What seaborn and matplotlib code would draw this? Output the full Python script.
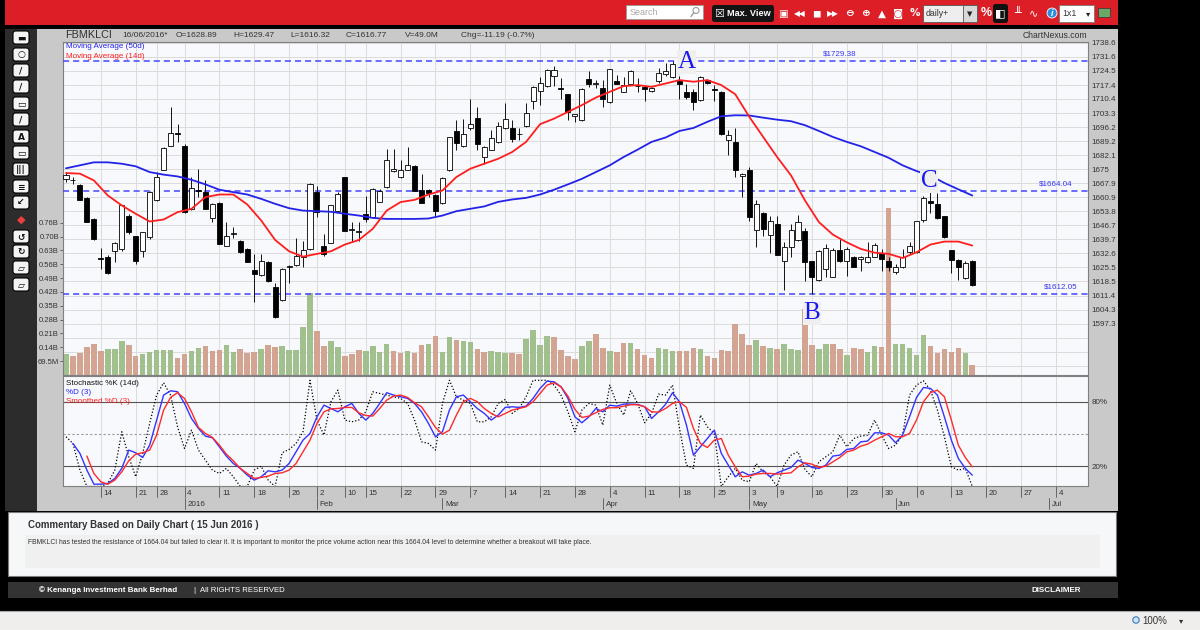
import numpy as np
import pandas as pd
import matplotlib
matplotlib.use("Agg")
import matplotlib.pyplot as plt
import matplotlib.patches as mpatches
import matplotlib.transforms as mtransforms
import seaborn as sns

sns.set_style("white")
plt.rcParams["font.family"] = ["Liberation Sans", "DejaVu Sans"]

# ---------------- data ----------------
# Bursa trading calendar, first bar 7 Dec 2015, last bar 16 Jun 2016
FIRST_DAY = "2015-12-07"
LAST_DAY = "2016-07-08"
HOLIDAYS = ["2015-12-24", "2015-12-25", "2016-01-01", "2016-01-25", "2016-02-01",
            "2016-02-08", "2016-02-09", "2016-05-02", "2016-07-06", "2016-07-07"]

opens = [
    1670.2, 1669.8, 1666.9, 1660.6, 1650.0, 1630.3, 1631.0, 1634.0, 1634.9, 1651.7,
    1641.6, 1633.7, 1640.8, 1659.3, 1674.8, 1686.9, 1693.2, 1686.7, 1655.1, 1664.6,
    1663.5, 1650.5, 1658.0, 1636.6, 1642.6, 1639.1, 1634.9, 1624.3, 1621.9, 1628.1,
    1615.9, 1609.1, 1626.0, 1626.8, 1630.7, 1634.9, 1663.8, 1636.2, 1637.9, 1654.2,
    1670.9, 1644.2, 1643.4, 1652.6, 1651.2, 1658.6, 1666.0, 1673.9, 1671.1, 1674.8,
    1676.5, 1664.7, 1664.7, 1662.3, 1658.0, 1674.4, 1694.3, 1686.6, 1696.0, 1701.0,
    1681.2, 1684.9, 1688.8, 1696.0, 1695.8, 1693.0, 1696.7, 1709.5, 1714.5, 1716.9,
    1721.9, 1716.0, 1712.8, 1701.7, 1700.0, 1720.7, 1718.2, 1715.7, 1709.0, 1719.6,
    1714.0, 1718.2, 1717.0, 1716.5, 1714.5, 1719.6, 1722.9, 1721.6, 1719.6, 1714.0,
    1713.7, 1709.8, 1720.0, 1715.5, 1714.0, 1689.9, 1688.8, 1671.8, 1674.8, 1644.5,
    1653.1, 1642.0, 1647.5, 1628.6, 1636.1, 1639.4, 1643.8, 1628.6, 1619.2, 1624.8,
    1620.9, 1634.4, 1628.6, 1631.0, 1629.8, 1628.1, 1631.0, 1632.7, 1628.6, 1623.5,
    1625.6, 1633.2, 1633.2, 1649.5, 1658.8, 1657.6, 1651.4, 1634.4, 1629.3, 1620.2,
    1628.89]
highs = [
    1673.6, 1671.1, 1667.7, 1661.0, 1650.5, 1635.4, 1632.0, 1638.2, 1657.0, 1652.6,
    1641.6, 1643.5, 1664.0, 1673.6, 1686.2, 1706.4, 1697.7, 1687.5, 1671.1, 1675.3,
    1669.4, 1658.0, 1658.4, 1648.4, 1645.8, 1639.5, 1635.2, 1632.4, 1632.4, 1628.6,
    1617.5, 1625.3, 1627.0, 1640.4, 1639.1, 1667.9, 1666.7, 1642.5, 1657.0, 1663.5,
    1671.1, 1648.4, 1648.4, 1661.3, 1665.5, 1665.2, 1685.4, 1685.4, 1679.5, 1686.2,
    1677.0, 1672.8, 1665.2, 1662.6, 1671.0, 1691.5, 1700.0, 1700.5, 1710.6, 1706.4,
    1686.5, 1694.6, 1698.9, 1708.4, 1699.7, 1696.0, 1708.4, 1716.8, 1721.6, 1725.3,
    1727.0, 1721.2, 1713.0, 1703.0, 1715.7, 1724.6, 1720.2, 1720.2, 1725.5, 1722.4,
    1721.6, 1724.9, 1721.2, 1717.0, 1716.5, 1725.8, 1728.3, 1729.38, 1721.9, 1718.2,
    1715.2, 1722.0, 1720.7, 1717.4, 1714.3, 1694.6, 1696.0, 1673.1, 1676.1, 1659.3,
    1653.3, 1651.7, 1651.7, 1638.2, 1647.5, 1652.2, 1645.5, 1629.0, 1634.4, 1637.4,
    1635.4, 1639.9, 1635.7, 1631.5, 1631.5, 1638.2, 1637.7, 1634.9, 1630.7, 1627.3,
    1634.9, 1638.2, 1649.2, 1661.3, 1663.5, 1663.0, 1651.7, 1634.6, 1629.8, 1629.0,
    1629.47]
lows = [
    1668.5, 1667.7, 1659.3, 1648.2, 1639.5, 1624.8, 1622.3, 1628.1, 1634.0, 1642.5,
    1627.3, 1630.7, 1640.0, 1659.0, 1674.6, 1686.9, 1688.8, 1653.0, 1654.6, 1661.0,
    1655.1, 1648.4, 1637.2, 1636.4, 1640.4, 1632.9, 1628.2, 1608.3, 1621.4, 1618.3,
    1600.0, 1608.8, 1617.5, 1626.1, 1626.0, 1634.4, 1651.2, 1631.5, 1637.9, 1654.2,
    1643.8, 1638.2, 1639.1, 1648.4, 1651.0, 1658.3, 1665.7, 1673.6, 1670.6, 1674.4,
    1664.0, 1657.8, 1661.0, 1651.7, 1657.5, 1674.0, 1684.5, 1686.2, 1694.6, 1684.5,
    1677.8, 1684.5, 1688.3, 1695.5, 1688.8, 1689.6, 1696.3, 1705.6, 1707.3, 1716.5,
    1716.9, 1710.6, 1699.7, 1698.9, 1699.4, 1716.5, 1715.7, 1706.4, 1708.5, 1717.9,
    1713.7, 1718.0, 1714.0, 1709.5, 1714.0, 1718.6, 1721.9, 1721.2, 1710.6, 1710.6,
    1704.8, 1709.5, 1718.2, 1709.5, 1692.3, 1682.0, 1671.1, 1661.0, 1649.2, 1635.7,
    1641.6, 1632.7, 1631.8, 1614.2, 1630.7, 1639.0, 1618.9, 1612.05, 1618.9, 1620.6,
    1620.6, 1628.1, 1621.4, 1625.6, 1623.6, 1628.0, 1630.7, 1623.9, 1623.9, 1622.3,
    1625.3, 1632.4, 1633.0, 1648.4, 1652.9, 1650.0, 1640.5, 1622.6, 1619.2, 1619.7,
    1616.32]
closes = [
    1671.9, 1669.6, 1659.3, 1648.4, 1639.9, 1629.8, 1622.6, 1637.7, 1656.8, 1643.3,
    1628.6, 1643.3, 1663.5, 1671.1, 1685.9, 1693.3, 1692.8, 1653.4, 1665.7, 1664.0,
    1655.1, 1657.6, 1637.4, 1641.3, 1643.0, 1633.2, 1628.5, 1622.3, 1629.0, 1618.6,
    1600.4, 1624.8, 1626.5, 1631.3, 1634.4, 1667.7, 1653.4, 1632.4, 1656.8, 1662.7,
    1644.1, 1644.7, 1643.8, 1650.0, 1665.2, 1664.0, 1679.8, 1675.3, 1674.4, 1677.3,
    1664.3, 1658.0, 1663.3, 1654.2, 1670.7, 1691.3, 1688.2, 1692.6, 1698.0, 1687.9,
    1686.2, 1691.0, 1696.7, 1700.5, 1690.4, 1692.6, 1703.4, 1716.5, 1718.7, 1725.0,
    1725.0, 1715.5, 1703.9, 1702.7, 1715.2, 1717.9, 1718.4, 1710.6, 1725.3, 1718.2,
    1717.4, 1724.6, 1716.8, 1715.5, 1715.7, 1723.3, 1724.6, 1728.0, 1717.9, 1711.5,
    1709.0, 1721.6, 1718.6, 1715.0, 1692.6, 1692.1, 1674.4, 1672.8, 1651.2, 1657.6,
    1645.0, 1649.2, 1632.0, 1635.7, 1644.5, 1648.7, 1628.1, 1620.6, 1633.7, 1635.4,
    1634.4, 1628.6, 1634.9, 1626.0, 1630.7, 1631.0, 1637.1, 1629.8, 1625.6, 1626.0,
    1630.7, 1636.6, 1648.9, 1660.6, 1658.2, 1650.5, 1640.8, 1629.3, 1625.6, 1627.6,
    1616.77]
# volume in billions of shares, bar colour g = green, p = brown
volumes = [
    0.105, 0.095, 0.112, 0.142, 0.156, 0.121, 0.129, 0.129, 0.172, 0.151,
    0.095, 0.105, 0.114, 0.126, 0.126, 0.126, 0.084, 0.105, 0.121, 0.134,
    0.146, 0.123, 0.126, 0.151, 0.118, 0.129, 0.112, 0.118, 0.129, 0.152,
    0.142, 0.146, 0.126, 0.126, 0.240, 0.414, 0.223, 0.146, 0.172, 0.142,
    0.095, 0.105, 0.126, 0.123, 0.146, 0.118, 0.156, 0.123, 0.112, 0.123,
    0.112, 0.151, 0.156, 0.196, 0.118, 0.193, 0.176, 0.171, 0.168, 0.131,
    0.114, 0.121, 0.114, 0.109, 0.109, 0.105, 0.179, 0.226, 0.151, 0.196,
    0.193, 0.126, 0.095, 0.079, 0.146, 0.171, 0.204, 0.137, 0.121, 0.118,
    0.162, 0.162, 0.131, 0.100, 0.087, 0.137, 0.131, 0.121, 0.121, 0.121,
    0.134, 0.129, 0.095, 0.084, 0.126, 0.123, 0.256, 0.206, 0.151, 0.174,
    0.146, 0.137, 0.129, 0.158, 0.131, 0.126, 0.330, 0.151, 0.129, 0.158,
    0.158, 0.129, 0.100, 0.137, 0.129, 0.114, 0.146, 0.142, 0.838, 0.158,
    0.156, 0.134, 0.100, 0.201, 0.146, 0.109, 0.129, 0.114, 0.137, 0.112,
    0.049]
vol_colour = ("gpppppgggp" "pgggggppgg" "pppggpppgp" "pgggggppgg" "pppggggppg"
              "ppgpggpggp" "pgggppgggg" "ppppggppgp" "pgpppgggpp" "pgpppppppg"
              "pgpgggppgg" "ppgppggppg" "ggggpppppg" "p")

# moving averages, read every second bar
ma_days = list(range(0, 131, 2))
ma50 = [1675.5, 1677.0, 1678.5, 1678.5, 1677.8, 1676.5, 1673.6, 1672.3, 1671.4, 1669.7,
        1667.4, 1664.7, 1663.5, 1662.3, 1660.1, 1657.6, 1655.4, 1654.2, 1653.9, 1653.6,
        1652.6, 1651.7, 1650.5, 1650.0, 1650.0, 1650.0, 1650.2, 1651.7, 1653.9, 1655.1,
        1656.3, 1658.6, 1659.8, 1660.6, 1662.3, 1664.7, 1667.4, 1670.2, 1673.6, 1677.0,
        1681.2, 1684.9, 1688.8, 1691.0, 1694.3, 1695.8, 1698.9, 1701.7, 1702.2, 1702.1,
        1701.0, 1700.0, 1699.2, 1697.2, 1694.3, 1691.3, 1688.8, 1686.6, 1683.7, 1680.8,
        1677.0, 1674.1, 1671.9, 1668.1, 1664.9, 1661.8]
ma14 = [1673.1, 1672.8, 1669.4, 1661.8, 1656.8, 1652.6, 1648.7, 1649.7, 1653.4, 1655.1,
        1661.0, 1662.3, 1662.3, 1657.3, 1649.2, 1639.4, 1633.7, 1631.0, 1632.4, 1633.7,
        1637.1, 1639.4, 1645.0, 1654.2, 1658.5, 1659.6, 1662.3, 1664.3, 1671.1, 1675.3,
        1677.8, 1680.3, 1683.7, 1688.8, 1697.7, 1700.5, 1703.9, 1707.3, 1711.1, 1714.0,
        1716.9, 1717.4, 1716.5, 1718.2, 1719.9, 1719.1, 1719.9, 1717.4, 1712.8, 1701.5,
        1691.3, 1681.2, 1671.9, 1659.3, 1648.4, 1642.1, 1638.2, 1634.9, 1633.0, 1632.4,
        1630.3, 1633.2, 1637.1, 1638.6, 1638.6, 1636.6]

# stochastic: %K from bar 0, %D from bar 1, smoothed %D from bar 3
stoch_k = [
    47.3, 41.1, 16.2, 1.0, 1.0, 1.0, 3.8, 16.2, 52.0, 28.6,
    10.0, 31.8, 59.7, 86.2, 97.7, 86.2, 56.6, 36.4, 53.5, 34.9,
    25.5, 16.2, 13.1, 17.8, 10.0, 1.0, 1.0, 16.2, 19.9, 6.9,
    1.0, 32.4, 35.5, 41.1, 52.0, 100.0, 62.9, 48.9, 80.0, 90.8,
    62.9, 61.3, 62.9, 70.6, 89.3, 87.7, 86.2, 84.6, 83.1, 78.4,
    62.9, 42.6, 41.1, 34.9, 78.4, 100.0, 84.6, 81.5, 78.4, 61.3,
    61.3, 65.9, 78.4, 82.1, 69.1, 73.7, 84.6, 100.0, 100.0, 100.0,
    95.5, 86.2, 70.6, 52.0, 72.2, 78.4, 76.8, 58.2, 95.5, 78.4,
    67.5, 90.2, 78.4, 60.4, 69.1, 87.1, 86.2, 95.5, 55.1, 20.9,
    17.8, 67.5, 56.6, 50.4, 1.0, 10.0, 17.8, 6.9, 5.3, 22.4,
    14.6, 10.0, 1.0, 20.9, 30.2, 33.3, 16.8, 10.0, 24.0, 28.6,
    33.3, 48.9, 38.0, 45.7, 47.9, 48.9, 62.9, 48.9, 36.4, 39.5,
    48.9, 86.2, 95.5, 99.5, 90.8, 72.2, 47.3, 19.3, 16.2, 17.8,
    1.0]
stoch_d = [
    41.1, 31.8, 16.2, 3.1, 3.1, 3.8, 8.4, 17.8, 34.9, 32.4,
    28.0, 39.5, 62.9, 86.2, 90.2, 89.3, 78.4, 64.4, 55.1, 47.9,
    46.4, 38.0, 29.3, 22.4, 17.8, 11.5, 6.9, 10.0, 15.6, 14.6,
    16.2, 22.4, 33.3, 44.2, 50.4, 65.9, 76.8, 73.7, 70.6, 75.3,
    78.4, 69.1, 62.9, 69.1, 78.4, 88.4, 86.2, 84.6, 83.1, 78.4,
    70.6, 59.7, 47.3, 52.0, 72.2, 84.6, 86.2, 80.0, 73.7, 69.1,
    62.9, 67.5, 74.7, 75.3, 74.7, 75.9, 83.1, 92.4, 99.2, 98.6,
    94.0, 83.1, 65.9, 60.4, 65.9, 73.7, 70.6, 76.8, 75.9, 77.8,
    77.8, 77.5, 75.3, 64.4, 70.6, 77.5, 88.4, 80.0, 58.2, 30.2,
    38.0, 45.7, 53.5, 31.8, 20.9, 10.0, 14.6, 11.5, 13.1, 16.2,
    10.0, 13.7, 16.2, 18.7, 25.5, 22.4, 18.7, 17.8, 20.9, 29.3,
    30.2, 35.5, 36.4, 42.6, 43.3, 51.0, 51.0, 48.9, 41.7, 48.9,
    65.9, 84.0, 93.3, 92.4, 86.2, 65.9, 44.2, 27.1, 17.8, 11.5]
stoch_sd = [
    29.3, 13.1, 5.3, 3.1, 6.9, 14.6, 24.9, 31.1,
    32.4, 34.9, 48.9, 72.2, 84.0, 88.4, 83.1, 70.6, 56.0, 50.4,
    46.7, 39.5, 31.1, 24.9, 17.8, 13.1, 8.4, 9.4, 10.6, 13.1,
    13.7, 16.2, 22.4, 33.3, 44.2, 59.7, 70.6, 73.4, 73.7, 74.7,
    74.7, 69.7, 67.2, 66.6, 73.7, 81.5, 85.2, 86.2, 84.0, 79.0,
    75.3, 65.9, 56.0, 49.8, 53.5, 67.5, 80.0, 83.1, 80.0, 73.7,
    69.1, 65.9, 69.1, 72.2, 73.7, 75.3, 80.0, 87.7, 95.5, 97.7,
    94.0, 85.2, 72.8, 65.3, 66.6, 69.7,
    72.8, 74.4, 74.4, 75.9, 77.2, 77.2, 75.3, 70.6, 70.3, 73.7,
    78.4, 80.0, 74.7, 55.1, 41.1, 37.3, 44.2, 45.7, 30.2, 19.3,
    10.0, 10.6, 12.5, 13.1, 13.1, 12.5, 13.1, 13.7, 19.3, 23.0,
    21.8, 18.7, 19.9, 24.0, 28.0, 33.3, 34.9, 38.6, 40.5, 44.2,
    47.3, 50.4, 47.3, 47.3, 50.4, 62.9, 80.0, 88.4, 90.8, 84.6,
    62.9, 39.5, 28.0, 19.3]

levels = [1729.38, 1664.04, 1612.05]
price_labels = ["1738.6", "1731.6", "1724.5", "1717.4", "1710.4", "1703.3", "1696.2",
                "1689.2", "1682.1", "1675", "1667.9", "1660.9", "1653.8", "1646.7",
                "1639.7", "1632.6", "1625.5", "1618.5", "1611.4", "1604.3", "1597.3"]
vol_labels = ["69.5M", "0.14B", "0.21B", "0.28B", "0.35B", "0.42B",
              "0.49B", "0.56B", "0.63B", "0.70B", "0.76B"]
vol_ticks = [0.0695, 0.139, 0.2085, 0.278, 0.3475, 0.417,
             0.4865, 0.556, 0.6255, 0.695, 0.7645]
tick_dates = ["2015-12-14", "2015-12-21", "2015-12-28", "2016-01-04", "2016-01-11",
              "2016-01-18", "2016-01-26", "2016-02-02", "2016-02-10", "2016-02-15",
              "2016-02-22", "2016-02-29", "2016-03-07", "2016-03-14", "2016-03-21",
              "2016-03-28", "2016-04-04", "2016-04-11", "2016-04-18", "2016-04-25",
              "2016-05-03", "2016-05-09", "2016-05-16", "2016-05-23", "2016-05-30",
              "2016-06-06", "2016-06-13", "2016-06-20", "2016-06-27", "2016-07-04"]
month_dates = ["2016-01-04", "2016-02-02", "2016-03-01", "2016-04-01",
               "2016-05-03", "2016-06-01", "2016-07-01"]
month_names = ["2016", "Feb", "Mar", "Apr", "May", "Jun", "Jul"]

# ---------------- derived positions ----------------
days = pd.bdate_range(FIRST_DAY, LAST_DAY, freq="C", holidays=HOLIDAYS)
bar_x = np.arange(len(closes))
tick_x = [days.get_loc(pd.Timestamp(d)) for d in tick_dates]
tick_lab = [str(pd.Timestamp(d).day) for d in tick_dates]
month_x = [days.get_loc(pd.Timestamp(d)) for d in month_dates]
price_vals = [float(p) for p in price_labels]
step = (price_vals[0] - price_vals[-1]) / (len(price_vals) - 1)
grid_levels = np.arange(price_vals[0], 1571.0, -step)

X_LIM = (-0.43, 146.6)
PRICE_LIM = (1571.4, 1739.1)
VOL_LIM = (0, 1.673)
STOCH_LIM = (1.4, 104)

GRID = "#dcdcdc"
BLUE = "#2222e8"
RED = "#ff1e1e"
TXT = "#333333"

fig = plt.figure(figsize=(12, 6.3), dpi=100, facecolor="black")
bg = fig.add_axes([0, 0, 1, 1])
bg.set_xlim(0, 1200)
bg.set_ylim(630, 0)
bg.axis("off")


def box(x0, y0, x1, y1, fc, ec="none", lw=0.0, rounded=False):
    if rounded:
        p = mpatches.FancyBboxPatch((x0, y0), x1 - x0, y1 - y0,
                                    boxstyle="round,pad=0,rounding_size=2.5",
                                    fc=fc, ec=ec, lw=lw)
    else:
        p = mpatches.Rectangle((x0, y0), x1 - x0, y1 - y0, fc=fc, ec=ec, lw=lw)
    bg.add_patch(p)


def px_rect(x0, y0, x1, y1):
    return [x0 / 1200, 1 - y1 / 630, (x1 - x0) / 1200, (y1 - y0) / 630]


# ---------------- page furniture ----------------
box(5, 0, 1118, 25, "#dc1f26")
box(5, 29, 1118, 511, "#c9c9c9")
box(5, 29, 37, 511, "#2c2c2c")
box(8, 512, 1116, 576, "#f6f7f9", ec="#7a7a7a", lw=0.8)
box(25, 535, 1100, 568, "#f0f0f0")
box(8, 582, 1118, 598, "#333333")
box(0, 611, 1200, 630, "#f0eeec")
bg.plot([0, 1200], [611, 611], color="#a9a9a9", lw=0.8)

# top toolbar
box(626, 5, 703, 19, "white", ec="#9a9a9a", lw=0.6)
bg.text(630, 12.5, "Search", fontsize=6.5, color="#a8a8a8", va="center")
bg.add_patch(mpatches.Circle((696, 10.5), 3, fill=False, ec="#9a9a9a", lw=0.8))
bg.plot([693.8, 691], [12.8, 16.5], color="#9a9a9a", lw=1.0)
box(712, 5, 774, 22, "#141414", rounded=True)
bg.text(714.5, 13.5, "☒", fontsize=8, color="white", va="center",
        family=["DejaVu Sans"])
bg.text(727, 13.5, "Max. View", fontsize=6.6, color="white", va="center", weight="bold")
icons = ["▣", "◀◀", "◼", "▶▶", "⊖", "⊕", "▲", "◙", "%"]
for xi, g in zip([783, 800, 816, 833, 849, 865, 882, 898, 915], icons):
    bg.text(xi, 13.5, g, fontsize=5.5 if len(g) > 1 else 7.5, color="white",
            ha="center", va="center", family=["DejaVu Sans"], weight="bold")
box(923, 5, 977, 22, "#eeeeee", ec="#555555", lw=0.6)
box(963, 5, 977, 22, "#d9d9d9", ec="#555555", lw=0.6)
bg.text(926, 13.5, "daily+", fontsize=6.3, color=TXT, va="center")
bg.text(970, 13.8, "▼", fontsize=5, color="#222", ha="center", va="center",
        family=["DejaVu Sans"])
bg.text(986, 13.5, "%", fontsize=9, color="white", ha="center", va="center", weight="bold")
box(993, 4, 1008, 23, "#111111", rounded=True)
for xi, g in zip([1000.5, 1017, 1034], ["◧", "╨", "∿"]):
    bg.text(xi, 13.5, g, fontsize=8, color="white", ha="center", va="center",
            family=["DejaVu Sans"])
bg.add_patch(mpatches.Circle((1052, 13), 5, fc="#2a8fe0", ec="white", lw=0.6))
bg.text(1052, 13.5, "i", fontsize=6.5, color="white", ha="center", va="center",
        weight="bold", style="italic")
box(1059, 5, 1094, 22, "white", ec="#777777", lw=0.6)
bg.text(1062, 13.5, "1x1", fontsize=6.3, color=TXT, va="center")
bg.text(1088, 14, "▾", fontsize=6, color="#222", ha="center", va="center",
        family=["DejaVu Sans"])
box(1098, 8, 1110, 17, "#6aa86a", ec="#333", lw=0.5)

# left toolbar
tool_y = [38, 55, 71, 87, 104, 120, 137, 153, 170, 187, 203, 220, 237, 252, 268, 285]
tool_g = ["▬", "○", "/", "/", "▭", "/", "A", "▭", "|||", "≡", "↙", "◆", "↺", "↻", "▱", "▱"]
for ty, g in zip(tool_y, tool_g):
    if g == "◆":
        bg.text(21, ty, g, fontsize=8, color="#e84040", ha="center", va="center",
                family=["DejaVu Sans"])
        continue
    box(13, ty - 7, 29, ty + 6, "#f4f4f4", ec="#000000", lw=0.8, rounded=True)
    bg.text(21, ty, g, fontsize=6.5, color="#111", ha="center", va="center",
            family=["DejaVu Sans"], weight="bold")

# header row
bg.text(65, 35, "FBMKLCI", fontsize=7.8, color=TXT, va="center")
hdr = [(122, "16/06/2016*"), (176, "O=1628.89"), (233, "H=1629.47"), (290, "L=1616.32"),
       (346, "C=1616.77"), (405, "V=49.0M"), (461, "Chg=-11.19 (-0.7%)")]
for hx, ht in hdr:
    bg.text(hx, 35.5, ht, fontsize=6, color=TXT, va="center")
bg.text(1087, 35, "ChartNexus.com", fontsize=6.2, color=TXT, va="center", ha="right")

# commentary + footer
bg.text(28, 525, "Commentary Based on Daily Chart ( 15 Jun 2016 )", fontsize=7,
        color=TXT, va="center", weight="bold",
        family=["Liberation Sans Narrow", "Liberation Sans"])
bg.text(28, 543, "FBMKLCI has tested the resistance of 1664.04 but failed to clear it. "
        "It is important to monitor the price volume action near this 1664.04 level to "
        "determine whether a breakout will take place.", fontsize=4.9, color=TXT, va="center")
bg.text(39, 590, "© Kenanga Investment Bank Berhad", fontsize=5.8, color="white",
        va="center", weight="bold")
bg.text(194, 590, "|  All RIGHTS RESERVED", fontsize=5.6, color="white", va="center")
bg.text(1032, 590, "DISCLAIMER", fontsize=5.8, color="white", va="center", weight="bold")
bg.add_patch(mpatches.Circle((1136, 620), 3.2, fc="#cfe3f7", ec="#3a78c0", lw=0.8))
bg.text(1142, 621, "100%", fontsize=7, color=TXT, va="center")
bg.text(1181, 621, "▾", fontsize=6, color="#333", ha="center", va="center",
        family=["DejaVu Sans"])

# ---------------- price + volume panel ----------------
ax_vol = fig.add_axes(px_rect(63, 42, 1088, 375))
ax = fig.add_axes(px_rect(63, 42, 1088, 375), sharex=ax_vol)
ax_st = fig.add_axes(px_rect(63, 376, 1088, 486), sharex=ax_vol)

ax_vol.set_facecolor("#f8f9fc")
ax.patch.set_visible(False)
for a in (ax_vol, ax_st):
    for s in a.spines.values():
        s.set_color("#808080")
        s.set_linewidth(0.8)
for s in ax.spines.values():
    s.set_visible(False)

ax_vol.vlines(tick_x, 0, 1, transform=mtransforms.blended_transform_factory(
    ax_vol.transData, ax_vol.transAxes), color=GRID, lw=0.7, zorder=0)
ax_vol.hlines(grid_levels, 0, 1, transform=mtransforms.blended_transform_factory(
    ax_vol.transAxes, ax.transData), color=GRID, lw=0.7, zorder=0)

ax_vol.bar(bar_x, volumes, width=0.8, lw=0, zorder=2,
           color=["#a2bf8e" if c == "g" else "#d3a491" for c in vol_colour])

o = np.array(opens)
c = np.array(closes)
ax.vlines(bar_x, lows, highs, color="#111111", lw=0.7, zorder=3)
ax.bar(bar_x, np.maximum(np.abs(c - o), 0.25), bottom=np.minimum(o, c), width=0.72,
       color=np.where(c >= o, "white", "black"), edgecolor="black", lw=0.6, zorder=4)

sns.lineplot(x=ma_days, y=ma50, ax=ax, color=BLUE, linewidth=1.3, legend=False, zorder=5)
sns.lineplot(x=ma_days, y=ma14, ax=ax, color=RED, linewidth=1.3, legend=False, zorder=5)

for lvl in levels:
    ax.axhline(lvl, color="#4646ff", lw=1.1, ls=(0, (4, 2.6)), zorder=2)
ax.annotate("$1729.38", xy=(108.6, levels[0]), xytext=(0, 2.5), textcoords="offset points",
            fontsize=5.8, color="#3535f0", va="bottom")
ax.annotate("$1664.04", xy=(139.5, levels[1]), xytext=(0, 2.5), textcoords="offset points",
            fontsize=5.8, color="#3535f0", va="bottom")
ax.annotate("$1612.05", xy=(140.2, levels[2]), xytext=(0, 2.5), textcoords="offset points",
            fontsize=5.8, color="#3535f0", va="bottom")

serif = ["Liberation Serif", "DejaVu Serif"]
for lx, ly, lt in [(89.0, 1729.0, "A"), (107.0, 1602.4, "B"), (123.8, 1668.9, "C")]:
    ax.text(lx, ly, lt, fontsize=18, family=serif, color="#1818ee", ha="center",
            va="center", zorder=7, bbox=dict(fc="#efefef", ec="none", pad=0.6))

ax.text(0.003, 0.985, "Moving Average (50d)", transform=ax.transAxes, fontsize=5.8,
        color=BLUE, va="center")
ax.text(0.003, 0.955, "Moving Average (14d)", transform=ax.transAxes, fontsize=5.8,
        color=RED, va="center")

ax_vol.set_yticks(vol_ticks, labels=vol_labels)
ax_vol.tick_params(axis="y", left=True, length=2.0, width=0.6, color="#555555",
                   labelsize=5.5, labelcolor=TXT, pad=0.8)
ax_vol.tick_params(axis="x", bottom=False, labelbottom=False)
ax.yaxis.tick_right()
ax.set_yticks(price_vals, labels=price_labels)
ax.tick_params(axis="y", right=True, left=False, length=0, pad=2.5,
               labelsize=5.8, labelcolor=TXT)
ax.tick_params(axis="x", bottom=False, labelbottom=False)

# ---------------- stochastic panel ----------------
ax_st.set_facecolor("#f8f9fc")
ax_st.vlines(tick_x, 0, 1, transform=mtransforms.blended_transform_factory(
    ax_st.transData, ax_st.transAxes), color=GRID, lw=0.7, zorder=0)
ax_st.axhline(80, color="#555555", lw=0.8, zorder=1)
ax_st.axhline(20, color="#555555", lw=0.8, zorder=1)
ax_st.axhline(50, color="#9a9a9a", lw=0.8, ls=(0, (2, 2)), zorder=1)

sns.lineplot(x=bar_x, y=stoch_k, ax=ax_st, color="black", linewidth=0.9,
             linestyle=(0, (1, 1.6)), legend=False, zorder=3)
sns.lineplot(x=bar_x[1:], y=stoch_d, ax=ax_st, color="#3434ff", linewidth=1.0,
             legend=False, zorder=4)
sns.lineplot(x=bar_x[3:], y=stoch_sd, ax=ax_st, color="#ff2a2a", linewidth=1.0,
             legend=False, zorder=4)

ax_st.text(0.003, 0.935, "Stochastic %K (14d)", transform=ax_st.transAxes,
           fontsize=5.8, color="#111", va="center")
ax_st.text(0.003, 0.85, "%D (3)", transform=ax_st.transAxes, fontsize=5.8,
           color="#2222ff", va="center")
ax_st.text(0.003, 0.765, "Smoothed %D (3)", transform=ax_st.transAxes, fontsize=5.8,
           color=RED, va="center")

ax_st.yaxis.tick_right()
ax_st.set_yticks([80, 20], labels=["80%", "20%"])
ax_st.tick_params(axis="y", right=True, left=False, length=0, pad=2.5,
                  labelsize=5.8, labelcolor=TXT)
ax_st.tick_params(axis="x", bottom=False, labelbottom=False)
ax_st.set_xlabel("")
ax_st.set_ylabel("")
ax.set_xlabel("")
ax.set_ylabel("")

tr = mtransforms.blended_transform_factory(ax_st.transData, ax_st.transAxes)
for pos, lab in zip(tick_x, tick_lab):
    ax_st.plot([pos, pos], [0, -0.10], transform=tr, color="#555555", lw=0.6, clip_on=False)
    ax_st.text(pos + 0.4, -0.065, lab, transform=tr, fontsize=5.8, color=TXT,
               va="center", ha="left", clip_on=False)
for pos, lab in zip(month_x, month_names):
    ax_st.plot([pos, pos], [-0.11, -0.21], transform=tr, color="#555555", lw=0.6,
               clip_on=False)
    ax_st.text(pos + 0.4, -0.17, lab, transform=tr, fontsize=5.8, color=TXT,
               va="center", ha="left", clip_on=False)

ax_vol.set_xlim(*X_LIM)
ax_vol.set_ylim(*VOL_LIM)
ax.set_ylim(*PRICE_LIM)
ax_st.set_ylim(*STOCH_LIM)

fig.savefig("out.png", dpi=100, facecolor=fig.get_facecolor())
